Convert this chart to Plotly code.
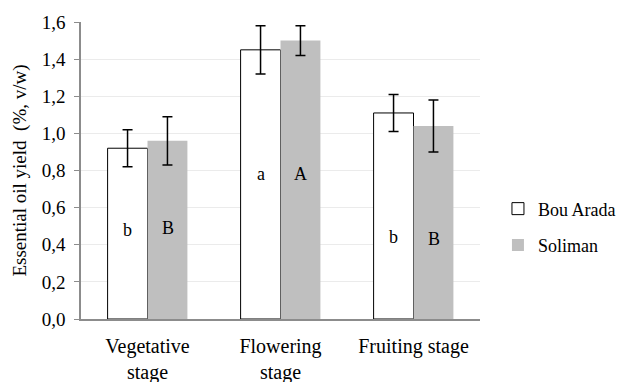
import plotly.graph_objects as go

categories = ["Vegetative<br>stage", "Flowering<br>stage", "Fruiting stage"]
bou_arada = [0.92, 1.45, 1.11]
bou_arada_err = [0.10, 0.13, 0.10]
soliman = [0.96, 1.50, 1.04]
soliman_err = [0.13, 0.08, 0.14]
letters_bou = ["b", "a", "b"]
letters_sol = ["B", "A", "B"]
letter_y_bou = [0.48, 0.78, 0.44]
letter_y_sol = [0.49, 0.78, 0.43]
yticks = [0.0, 0.2, 0.4, 0.6, 0.8, 1.0, 1.2, 1.4, 1.6]
ytick_text = ["0,0", "0,2", "0,4", "0,6", "0,8", "1,0", "1,2", "1,4", "1,6"]

FONT = "'Liberation Serif', 'Times New Roman', 'DejaVu Serif', serif"

fig = go.Figure()
fig.add_trace(go.Bar(
    name="Bou Arada", x=categories, y=bou_arada, legendgroup="g1",
    marker=dict(color="white", line=dict(color="black", width=1)),
    error_y=dict(type="data", array=bou_arada_err, color="black", thickness=1.5, width=5),
))
fig.add_trace(go.Bar(
    name="Soliman", x=categories, y=soliman, legendgroup="g2",
    marker=dict(color="#BFBFBF", line=dict(width=0)),
    error_y=dict(type="data", array=soliman_err, color="black", thickness=1.5, width=5),
))

for i, c in enumerate(categories):
    fig.add_annotation(x=c, y=letter_y_bou[i], text=letters_bou[i], showarrow=False,
                       xshift=-20, font=dict(family=FONT, size=18, color="black"))
    fig.add_annotation(x=c, y=letter_y_sol[i], text=letters_sol[i], showarrow=False,
                       xshift=20, font=dict(family=FONT, size=18, color="black"))

fig.update_layout(
    width=633, height=382,
    margin=dict(l=81, r=149, t=22, b=63),
    barmode="group", bargap=0.4, bargroupgap=0,
    plot_bgcolor="white", paper_bgcolor="white",
    font=dict(family=FONT, size=18, color="black"),
    legend=dict(x=1.045, y=0.31, xanchor="left", yanchor="middle",
                traceorder="grouped",
                font=dict(family=FONT, size=18), itemwidth=30, tracegroupgap=10),
    xaxis=dict(showline=True, linecolor="#8C8C8C", linewidth=1.5, ticks="",
               automargin=False, ticklabelstandoff=8,
               tickfont=dict(family=FONT, size=20)),
    yaxis=dict(range=[0, 1.6], tickvals=yticks, ticktext=ytick_text,
               automargin=False, ticklabelstandoff=5,
               showgrid=True, gridcolor="#EBEBEB", gridwidth=1,
               showline=True, linecolor="#8C8C8C", linewidth=1.5,
               ticks="outside", ticklen=5, tickcolor="#8C8C8C",
               tickfont=dict(family=FONT, size=19),
               title=dict(text="Essential oil yield  (%, v/w)", font=dict(family=FONT, size=19), standoff=10),
               zeroline=False),
)

fig.write_html("out.html", config={"displayModeBar": False},
               post_script="document.body.style.margin='0';document.body.style.overflow='hidden';")
